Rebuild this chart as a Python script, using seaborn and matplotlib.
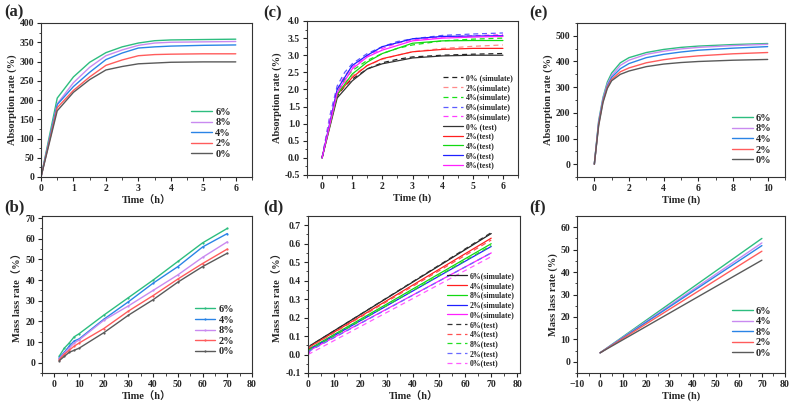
import matplotlib
matplotlib.use("Agg")
import matplotlib.pyplot as plt
import seaborn as sns
from matplotlib.ticker import AutoMinorLocator

# ---- data ----
groups = ["0%", "2%", "4%", "6%", "8%"]

# (a) absorption rate, test
a_time = [0, 0.5, 1, 1.5, 2, 2.5, 3, 3.5, 4, 5, 6]
a_vals = {
    "6%": [0, 205, 260, 298, 323, 338, 348, 354, 356, 357, 358],
    "8%": [0, 190, 245, 285, 315, 330, 342, 348, 350, 351, 352],
    "4%": [0, 188, 235, 272, 305, 322, 335, 338, 340, 342, 343],
    "2%": [0, 180, 225, 260, 290, 304, 315, 318, 319, 320, 320],
    "0%": [0, 172, 220, 253, 278, 287, 294, 296, 298, 299, 299],
}
a_order = ["6%", "8%", "4%", "2%", "0%"]

# (b) mass loss rate
b_time = [2, 4, 6, 8, 10, 20, 30, 40, 50, 60, 70]
b_vals = {
    "6%": [3.2, 7, 9.5, 12.5, 14, 23, 31.5, 40, 49, 58, 65],
    "4%": [2.5, 5, 8, 10.5, 11.5, 21, 29.5, 38.5, 46.5, 56, 62.5],
    "8%": [2, 4.5, 7, 9.5, 11, 20.5, 27.5, 35, 42.5, 51, 58.5],
    "2%": [1.5, 4, 6, 8, 9.5, 16.5, 25, 32.5, 40.5, 48, 55],
    "0%": [1, 3, 5, 6, 7, 14.5, 23, 30.5, 39, 46.5, 53],
}
b_order = ["6%", "4%", "8%", "2%", "0%"]

# (c) absorption rate, simulate vs test
c_sim_time = [0, 0.25, 0.5, 0.75, 1, 1.5, 2, 2.5, 3, 4, 5, 6]
c_sim = {
    "0%": [0, 1.0, 1.8, 2.1, 2.3, 2.6, 2.78, 2.88, 2.95, 3.0, 3.03, 3.05],
    "2%": [0, 1.0, 1.85, 2.2, 2.4, 2.7, 2.88, 3.0, 3.1, 3.2, 3.26, 3.3],
    "4%": [0, 1.05, 1.9, 2.3, 2.55, 2.85, 3.05, 3.2, 3.3, 3.42, 3.47, 3.5],
    "6%": [0, 1.2, 2.1, 2.5, 2.75, 3.05, 3.25, 3.4, 3.48, 3.58, 3.62, 3.65],
    "8%": [0, 1.1, 2.0, 2.4, 2.65, 2.98, 3.2, 3.35, 3.45, 3.53, 3.57, 3.6],
}
c_test_time = [0, 0.5, 1, 1.5, 2, 3, 4, 5, 6]
c_test = {
    "0%": [0, 1.75, 2.25, 2.6, 2.75, 2.92, 2.98, 3.0, 3.0],
    "2%": [0, 1.85, 2.35, 2.7, 2.9, 3.1, 3.17, 3.2, 3.2],
    "4%": [0, 1.85, 2.45, 2.8, 3.05, 3.35, 3.42, 3.43, 3.43],
    "6%": [0, 2.0, 2.7, 3.0, 3.25, 3.48, 3.55, 3.56, 3.57],
    "8%": [0, 1.9, 2.6, 2.95, 3.15, 3.42, 3.5, 3.53, 3.55],
}

# (d) mass loss rate, simulate vs test
d_order = ["6%", "4%", "8%", "2%", "0%"]
d_sim_time = [0, 1, 70]
d_sim = {
    "6%": [0, 0.05, 0.655],
    "4%": [0, 0.045, 0.63],
    "8%": [0, 0.035, 0.6],
    "2%": [0, 0.03, 0.585],
    "0%": [0, 0.025, 0.55],
}
d_test_time = [0, 70]
d_test = {
    "6%": [0.04, 0.66],
    "4%": [0.035, 0.62],
    "8%": [0.02, 0.59],
    "2%": [0.015, 0.55],
    "0%": [0.0, 0.53],
}

# (e) absorption rate, model
e_time = [0, 0.25, 0.5, 0.75, 1, 1.5, 2, 3, 4, 5, 6, 8, 10]
e_vals = {
    "6%": [0, 170, 260, 320, 355, 395, 415, 435, 447, 455, 460, 466, 470],
    "8%": [0, 165, 255, 312, 345, 385, 405, 428, 440, 449, 455, 462, 467],
    "4%": [0, 160, 250, 305, 338, 372, 392, 415, 428, 437, 444, 452, 458],
    "2%": [0, 155, 245, 300, 330, 360, 375, 395, 407, 416, 422, 430, 435],
    "0%": [0, 150, 240, 295, 325, 350, 363, 380, 390, 396, 400, 405, 408],
}

# (f) mass loss rate, model
f_time = [0, 70]
f_vals = {
    "6%": [4, 55],
    "4%": [4, 53],
    "8%": [4, 51.8],
    "2%": [4, 49.3],
    "0%": [4, 45.3],
}
f_order = ["6%", "4%", "8%", "2%", "0%"]

# colours go by legend position, as in the original figure
soft = ["#2dbd7f", "#c98af0", "#2a84e6", "#ff5c5c", "#5a5a5a"]
soft_b = ["#2dbd7f", "#2a84e6", "#c98af0", "#ff5c5c", "#5a5a5a"]
c_solid = ["#333333", "#ff1f1f", "#12d812", "#2020ff", "#ff1fff"]
c_dash = ["#222222", "#ff8a8a", "#18e018", "#5c5cff", "#ff3cff"]
d_solid = ["#222222", "#ff1f1f", "#12d812", "#2020ff", "#ff1fff"]
d_dash = ["#333333", "#ff5050", "#22e022", "#6a6aff", "#ff5cff"]

sns.set_theme(style="ticks")
plt.rcParams["font.family"] = ["Liberation Serif", "Noto Sans CJK SC"]
plt.rcParams["font.weight"] = "bold"
plt.rcParams["axes.labelweight"] = "bold"

W, H = 792, 407
fig = plt.figure(figsize=(W / 100, H / 100), dpi=100)


def add_ax(left, right, top, bottom):
    return fig.add_axes([left / W, (H - bottom) / H, (right - left) / W, (bottom - top) / H])


def style(ax, xlim, ylim, xticks, yticks, xlabel, ylabel, yfmt=None, fs=7):
    ax.set_xlim(*xlim)
    ax.set_ylim(*ylim)
    ax.set_xticks(xticks)
    ax.set_yticks(yticks)
    if yfmt:
        ax.set_yticklabels([yfmt.format(v) for v in yticks])
    ax.xaxis.set_minor_locator(AutoMinorLocator(2))
    ax.yaxis.set_minor_locator(AutoMinorLocator(2))
    ax.tick_params(which="major", direction="out", length=3, width=0.8, labelsize=fs, pad=2)
    ax.tick_params(which="minor", direction="out", length=1.8, width=0.6)
    for lab in ax.get_xticklabels() + ax.get_yticklabels():
        lab.set_fontweight("bold")
    for s in ax.spines.values():
        s.set_linewidth(0.8)
        s.set_color("#333333")
    ax.set_xlabel(xlabel, fontsize=7.5, labelpad=2)
    ax.set_ylabel(ylabel, fontsize=7.5, labelpad=2)


def small_legend(ax, anchor, size=7.5, hl=2.0, sp=0.12):
    ax.legend(loc="lower right", bbox_to_anchor=anchor, frameon=False, handlelength=hl,
              handletextpad=0.3, labelspacing=sp, borderpad=0.2,
              prop={"weight": "bold", "size": size})


def panel_label(x, y, text):
    fig.text(x / W, 1 - y / H, text, fontsize=12, fontweight="bold", va="center", ha="left")


# (a)
ax = add_ax(41, 252, 23, 177)
for g, col in zip(a_order, soft):
    sns.lineplot(x=a_time, y=a_vals[g], ax=ax, color=col, lw=1.0, label=g)
style(ax, (0, 6.5), (0, 400), range(0, 7), range(0, 401, 50), "Time（h）", "Absorption rate (%)")
small_legend(ax, (0.935, 0.07))
panel_label(4, 12, "(a)")

# (b)
ax = add_ax(42, 252, 216, 373)
for g, col in zip(b_order, soft_b):
    sns.lineplot(x=b_time, y=b_vals[g], ax=ax, color=col, lw=1.0, marker="o",
                 markersize=1.6, markeredgewidth=0, label=g)
style(ax, (-5, 80), (-5, 71), range(0, 81, 10), range(0, 71, 10), "Time（h）", "Mass lass rate（%）")
small_legend(ax, (0.95, 0.06))
panel_label(4, 207, "(b)")

# (c)
ax = add_ax(307, 518, 21, 175)
for g, col in zip(groups, c_dash):
    lab = f"{g} (simulate)" if g == "0%" else f"{g}(simulate)"
    sns.lineplot(x=c_sim_time, y=c_sim[g], ax=ax, color=col, lw=0.9,
                 linestyle=(0, (4, 3)), label=lab)
for g, col in zip(groups, c_solid):
    lab = f"{g} (test)" if g == "0%" else f"{g}(test)"
    sns.lineplot(x=c_test_time, y=c_test[g], ax=ax, color=col, lw=0.9, label=lab)
style(ax, (-0.5, 6.5), (-0.5, 4.0), range(0, 7), [x / 2 for x in range(-1, 9)], "Time (h)",
      "Absorption rate (%)", yfmt="{:.1f}")
small_legend(ax, (1.0, 0.0), size=5.6, hl=2.6, sp=0.22)
panel_label(263, 13, "(c)")

# (d)
ax = add_ax(308, 520, 216, 373)
for g, col in zip(d_order, d_solid):
    sns.lineplot(x=d_sim_time, y=d_sim[g], ax=ax, color=col, lw=0.9, label=f"{g}(simulate)")
for g, col in zip(d_order, d_dash):
    sns.lineplot(x=d_test_time, y=d_test[g], ax=ax, color=col, lw=0.9,
                 linestyle=(0, (4, 3)), label=f"{g}(test)")
style(ax, (0, 81), (-0.1, 0.75), range(0, 81, 10), [x / 10 for x in range(-1, 8)], "Time（h）",
      "Mass lass rate（%）", yfmt="{:.1f}")
small_legend(ax, (1.0, 0.0), size=5.6, hl=2.6, sp=0.22)
panel_label(263, 207, "(d)")

# (e)
ax = add_ax(577, 785, 23, 177)
for g, col in zip(a_order, soft):
    sns.lineplot(x=e_time, y=e_vals[g], ax=ax, color=col, lw=1.0, label=g)
style(ax, (-1, 11), (-50, 550), range(0, 11, 2), range(0, 501, 100), "Time (h)", "Absorption rate (%)")
small_legend(ax, (0.97, 0.03))
panel_label(529, 13, "(e)")

# (f)
ax = add_ax(577, 785, 216, 373)
for g, col in zip(f_order, soft):
    sns.lineplot(x=f_time, y=f_vals[g], ax=ax, color=col, lw=1.0, label=g)
style(ax, (-10, 80), (-5, 65), range(-10, 81, 10), range(0, 61, 10), "Time (h)", "Mass lass rate (%)")
small_legend(ax, (0.97, 0.05))
panel_label(529, 207, "(f)")

fig.savefig("out.png", dpi=100)
